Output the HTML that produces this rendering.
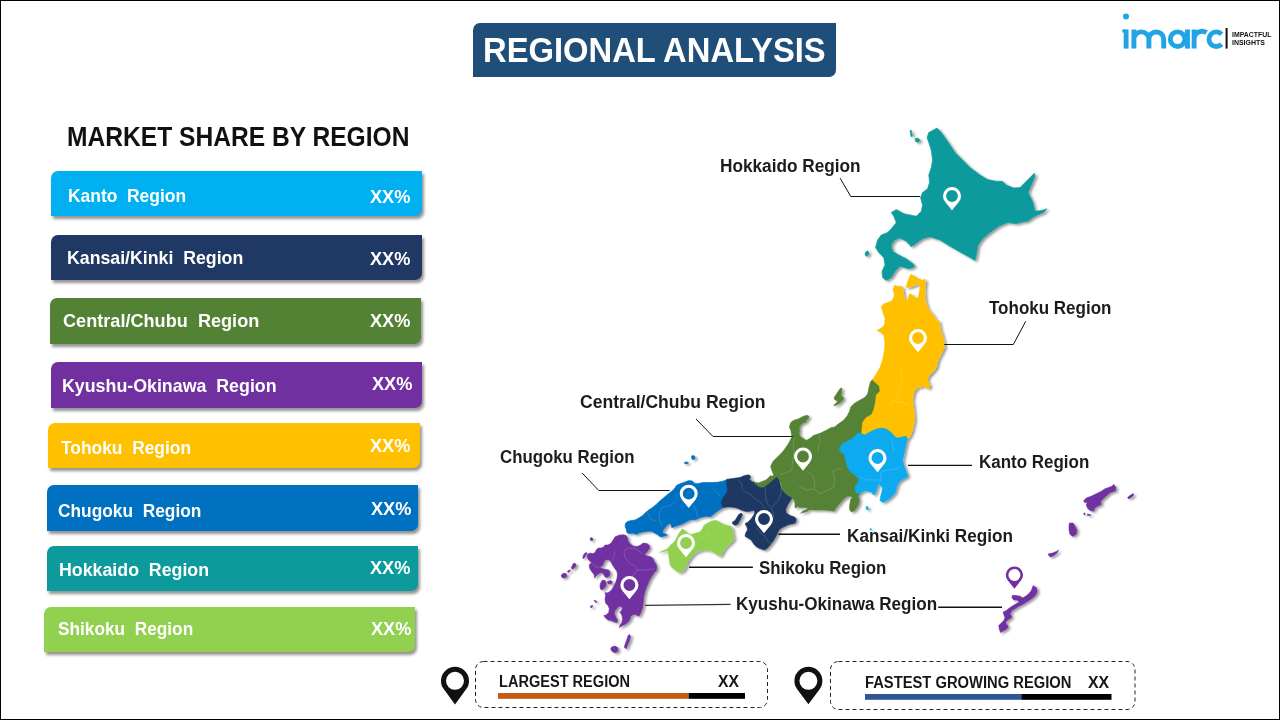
<!DOCTYPE html>
<html lang="en"><head><meta charset="utf-8"><title>Regional Analysis</title>
<style>
html,body{margin:0;padding:0;}
body{width:1280px;height:720px;overflow:hidden;background:#fff;position:relative;font-family:"Liberation Sans",sans-serif;}
.frame{position:absolute;left:0;top:0;width:1278px;height:718px;border:1px solid #000;z-index:9;pointer-events:none;}
.t{position:absolute;white-space:pre;transform-origin:0 0;margin:0;}
.title{position:absolute;left:473px;top:23px;width:363px;height:54px;background:#1F4E79;border-radius:7px 0 7px 0;}
.bar{position:absolute;border-radius:7px 0 7px 0;box-shadow:2px 3px 3px rgba(0,0,0,.42);}
.dash{position:absolute;}
svg{position:absolute;left:0;top:0;}
</style></head><body>
<div class="title"></div>
<div class="bar" style="left:51px;top:171px;width:371px;height:45px;background:#00B0F0"></div>
<div class="bar" style="left:51px;top:235px;width:371px;height:45px;background:#1F3864"></div>
<div class="bar" style="left:50px;top:298px;width:371px;height:46px;background:#548235"></div>
<div class="bar" style="left:51px;top:362px;width:371px;height:46px;background:#7030A0"></div>
<div class="bar" style="left:48px;top:423px;width:372px;height:45px;background:#FFC000"></div>
<div class="bar" style="left:47px;top:485px;width:371px;height:46px;background:#0070C0"></div>
<div class="bar" style="left:47px;top:546px;width:371px;height:45px;background:#0C9A9C"></div>
<div class="bar" style="left:44px;top:607px;width:371px;height:45px;background:#92D050"></div>
<svg width="1280" height="720" viewBox="0 0 1280 720">
<defs><filter id="sh" x="-5%" y="-5%" width="110%" height="110%"><feDropShadow dx="2.3" dy="1.5" stdDeviation="1.3" flood-color="#000" flood-opacity="0.4"/></filter></defs>
<g filter="url(#sh)">
<path d="M928.75,132.5 L932.5,130.5 L937,128 L941.25,132.5 L947.5,141.25 L955,152.5 L962.5,160 L970,167.5 L980,175 L987.5,179.5 L996.25,181.25 L1002.5,181.25 L1006.25,185 L1013.75,188 L1020,187.5 L1026.25,181.25 L1034.5,173 L1035,176.25 L1031.25,185 L1028,192.5 L1032.5,201.25 L1035,211.25 L1041.25,210.5 L1047,208.75 L1043.75,212.5 L1037.5,215 L1032.5,217.5 L1027.5,221.25 L1020,222.5 L1016.25,223.75 L1007.5,222.5 L998.75,226.25 L990,232.5 L982.5,238.75 L978,245 L976.25,255 L975,260.5 L970,257.5 L960,252 L950,246.25 L940,240 L930,236.75 L922.5,238.75 L916.25,243 L911.25,246.75 L906.25,241.25 L900,238 L894.5,240 L891.25,245 L892.5,251.25 L898.75,255 L906.25,258.75 L913.75,264.25 L914.5,266.75 L908.75,268.75 L900,266.25 L895,271.25 L891.25,277.5 L886.25,280.5 L882.5,277.5 L882,271.25 L885,265 L883.75,257.5 L878.75,252.5 L875.5,247.5 L877.5,240 L881.25,235 L887.5,232.5 L891.25,228.75 L896.25,222.5 L893.75,216.25 L891.25,212.5 L896.25,209.5 L903.75,213.75 L910,215 L916.25,216.25 L921.25,211.25 L922.5,205 L920.5,197.5 L922.5,192.5 L927.5,188.75 L929.5,182.5 L928.75,175 L931.25,167.5 L932.5,160 L931.25,150 L928.75,142.5 L927,137.5Z" fill="#0C9A9C" stroke="#0C9A9C" stroke-width="0.6" stroke-linejoin="round"/>
<path d="M910,130.5 L911.5,130.5 L912.5,136.25 L911,136.5Z" fill="#0C9A9C" stroke="#0C9A9C" stroke-width="0.6" stroke-linejoin="round"/>
<path d="M915,138.75 L918,138 L920,140.5 L918,142.5 L915.5,141.5Z" fill="#0C9A9C" stroke="#0C9A9C" stroke-width="0.6" stroke-linejoin="round"/>
<path d="M865.5,252 L868,250.75 L869,253.75 L867,256.5 L865,255Z" fill="#0C9A9C" stroke="#0C9A9C" stroke-width="0.6" stroke-linejoin="round"/>
<path d="M881.56,379.22 L872.5,379.61 L870.62,381.56 L869.06,387.03 L867.89,393.28 L865.16,397.19 L859.69,400.31 L854.22,403.44 L850.7,406.95 L849.53,411.25 L847.19,415.94 L843.28,420.62 L838.59,423.75 L834.69,426.88 L830.78,427.66 L826.88,430 L820.62,433.12 L812.81,435.86 L811.25,437.5 L806.25,440.62 L799.53,436.02 L799.14,433.12 L799.53,430 L799.14,426.88 L800.7,424.92 L802.66,422.97 L805.78,422.19 L806.56,419.84 L808.52,418.28 L808.91,416.33 L806.95,415.31 L803.44,416.33 L798.75,418.67 L794.06,420.23 L790.94,422.19 L789.38,426.88 L790.94,430.78 L791.72,436.02 L791.88,436.88 L789.38,441.88 L786.25,446.88 L782.5,451.88 L777.5,456.88 L773.12,461.25 L770.62,466.25 L771.88,470.62 L773.75,475 L772.5,476.25 L770.62,475.62 L767.5,478.75 L765,480.62 L762.5,481.25 L758.75,483 L755,482.5 L753,480.75 L753.75,485 L760,488 L775,485 L778.75,480.62 L781.25,483.12 L781.88,486.88 L782.5,491.25 L785.62,493.75 L788.75,495.62 L791.88,498.12 L794.38,500.62 L795,503.75 L795,507.5 L796.25,508.12 L797.5,506.25 L800,507.5 L803.75,507.25 L807.5,507.5 L806.88,509.38 L802.5,511.25 L800.62,513.12 L803.75,512.5 L807.5,511.25 L810,509.38 L815,510 L820,510 L825,510 L830,510.62 L833.75,511.25 L836.25,507.5 L840,503.12 L843.75,498.75 L847.5,496.25 L851.25,496.25 L852.5,497.5 L850.62,499.38 L850,503.12 L849.38,507.5 L850,510.62 L851.88,511.88 L854.38,510.62 L856.88,507.5 L858.75,503.75 L859.38,500 L858.12,496.25 L865,485 L877.5,447.5 L887.5,428.75 L890,415Z" fill="#548235" stroke="#548235" stroke-width="0.6" stroke-linejoin="round"/>
<path d="M840.55,388.2 L842.11,388.2 L841.72,391.72 L840.94,394.84 L841.72,396.8 L843.67,397.34 L843.28,399.14 L841.33,401.48 L839.38,403.44 L836.64,405 L834.3,405.78 L833.91,405 L835.86,403.44 L837.42,401.88 L836.64,400.47 L834.69,399.53 L834.06,398.36 L835.08,396.02 L837.03,393.28 L838.98,390.16Z" fill="#548235" stroke="#548235" stroke-width="0.6" stroke-linejoin="round"/>
<path d="M885,318 L883.83,314.88 L883.05,312.53 L882.27,309.41 L881.09,307.45 L882.27,305.5 L884.22,303.55 L887.34,302.77 L890.47,301.59 L892.42,300.03 L893.59,297.69 L894.38,294.56 L893.59,291.44 L892.81,289.09 L893.98,288.31 L893.98,285.97 L895.16,285.19 L897.5,286.75 L899.84,286.36 L902.19,286.75 L902.97,290.66 L903.75,295.34 L904.53,299.25 L906.09,299.64 L908.05,299.25 L908.83,296.12 L909.61,293.78 L911.56,294.56 L913.91,296.52 L916.25,298.08 L918.2,297.69 L918.98,293.78 L919.77,289.09 L920.16,285.19 L919.38,284.02 L916.25,284.8 L912.34,286.36 L908.44,287.53 L906.09,287.14 L906.88,284.41 L908.44,279.72 L910.78,274.25 L914.69,276.59 L919.38,279.33 L922.5,280.5 L924.84,278.94 L925.47,281.28 L925.23,285.19 L924.69,289.88 L924.84,294.56 L925.23,299.25 L926.02,303.16 L927.97,308.62 L931.09,312.53 L934.22,316.44 L936.95,321.91 L938.75,320 L940.5,330 L943.75,340 L944.5,347.5 L941.25,353.75 L938,360 L936.25,367.5 L932.5,372.5 L928.75,376.25 L927,380 L930,385 L928.75,388.75 L923.75,386.25 L917.5,387.5 L913.75,392.5 L912.5,400 L913.75,410 L914.5,420 L912.5,430 L910,436.25 L905,442.5 L860,442.5 L862,430 L862.5,422.5 L866.25,417.5 L871.25,415 L873.75,410 L875.5,402.5 L876.25,395 L880,391.25 L879.5,386.25 L875.5,382.5 L872.5,380 L876.25,373.75 L880,367.5 L882.5,360 L884.5,350 L885,342.5 L883.75,335 L881.25,332 L877,330.5 L881.25,328 L884.5,325 L885,318.75Z" fill="#FFC000" stroke="#FFC000" stroke-width="0.6" stroke-linejoin="round"/>
<path d="M840,447.5 L842.5,443.75 L846.88,441.25 L851.25,439.38 L855,435.62 L858.12,433.12 L861.88,433.75 L865,435 L871.25,431.25 L877.5,428.75 L882.5,428.12 L886.88,429.38 L891.25,432.5 L895,436.88 L897.5,438.12 L902.5,436.88 L906.25,436.25 L907.5,438.75 L906.25,443.12 L905,448.75 L903.75,455 L902.5,460 L903.75,465 L905.62,470 L907.5,474.38 L907.5,476.88 L903.75,478.75 L900,481.25 L897.5,484.38 L896.25,488.75 L895,493.12 L891.25,496.88 L887.5,500 L883.12,502.5 L880,500.62 L880.62,496.25 L881.88,491.88 L882.5,487.5 L880.62,485 L878.12,485 L876.88,488.75 L875.62,492.5 L874,495.25 L871.25,491.88 L865,490.62 L860,493.12 L856.88,493.75 L855,490 L855,486.25 L858.12,483.12 L858.75,478.75 L855,475 L850.62,471.88 L847.5,467.5 L846.25,462.5 L845,457.5 L843.75,453.75 L840.62,451.88 L839.38,449.38Z" fill="#08AAF0" stroke="#08AAF0" stroke-width="0.6" stroke-linejoin="round"/>
<path d="M866,506.75 L867.5,506.5 L868.5,508.5 L868,510 L866.5,509.5Z" fill="#08AAF0" stroke="#08AAF0" stroke-width="0.6" stroke-linejoin="round"/>
<path d="M870,528.75 L871.25,528.75 L871.38,530 L870.12,530Z" fill="#08AAF0" stroke="#08AAF0" stroke-width="0.6" stroke-linejoin="round"/>
<path d="M730,479.38 L726.25,480 L722.5,481.25 L717.5,482.25 L712.5,482.5 L707.5,482.5 L702.5,482.5 L698.75,483.5 L695.62,483.75 L693.12,482.5 L692.5,481 L688.75,480.62 L685,481.88 L680,483.75 L676.25,485.62 L675,488.12 L672.5,490.62 L669.38,493.12 L666.25,495.62 L662.5,498.75 L659.38,501.25 L656.25,504.38 L652.5,507.5 L648.75,510 L645.62,512.5 L642.5,515.62 L638.75,518.12 L635,520 L631.25,520.62 L628.12,521.25 L625.62,523.12 L625,526.25 L626.25,529.38 L626.88,532.5 L628.75,533.75 L632.5,533.12 L636.25,534.38 L640,532.5 L643.75,531.88 L647.5,531.25 L651.25,531.25 L655,533.12 L658.12,535 L660.62,536.88 L663.75,536.25 L667.5,535 L665,533.75 L662.5,533.12 L663.12,530 L665,527.5 L667.5,525 L669.38,523.12 L671.25,525 L671.88,528.12 L673.75,526.88 L677.5,525.62 L681.25,524.38 L685,522.5 L688.75,520.62 L692.5,519.38 L695,520 L698.75,518.12 L702.5,516.88 L706.25,516.25 L710,516.88 L713.12,514.38 L716.25,511.88 L720,509.38 L723.12,507.5 L730,506.25Z" fill="#0070C0" stroke="#0070C0" stroke-width="0.6" stroke-linejoin="round"/>
<path d="M691.51,455.94 L693.76,455.38 L695.26,457.25 L694.13,459.5 L691.88,459.13Z" fill="#0070C0" stroke="#0070C0" stroke-width="0.6" stroke-linejoin="round"/>
<path d="M684.38,462.51 L686.63,461.76 L688.51,462.88 L687.01,464.01 L684.76,463.63Z" fill="#0070C0" stroke="#0070C0" stroke-width="0.6" stroke-linejoin="round"/>
<path d="M726.5,479.38 L732.5,478.5 L740,477.5 L744.38,475.62 L748.75,474.75 L750.62,476.25 L749.38,479.38 L752.5,481.88 L753.75,482.5 L756.25,485.62 L760,487.75 L763.75,487.5 L767.5,485 L771.25,481.88 L775,478.75 L776.88,477.5 L778.75,480 L780,483.75 L781.25,488.75 L783.75,492.5 L787.5,495.62 L791.88,498.12 L790,501.25 L787.5,505 L785.62,509.38 L786.25,513.12 L790,515.62 L794.38,516.88 L796.25,518.75 L795.62,522.5 L793.12,523.75 L788.75,524.38 L785,526.25 L781.25,528.12 L778.75,530.62 L776.88,534.38 L775,538.12 L772.5,541.88 L770,545 L767.5,548.12 L765,550 L761.25,549 L757.5,547.5 L755,545.62 L753.12,543.12 L751.25,540 L748.12,538.12 L745,536.25 L745.62,533.12 L747.5,530 L746.88,526.88 L745,523.75 L748.12,521.88 L751.25,518.75 L753.75,515 L755,511.88 L753.75,510.25 L750,511.25 L746.25,511.5 L742.5,510.62 L738.75,508.75 L735,507.5 L730,506.88 L726.25,506.88 L723.12,507.5 L722.5,506.88 L721.25,502.5 L723.12,497.5 L726.25,493.75 L727.5,490 L726.88,485Z" fill="#1F3864" stroke="#1F3864" stroke-width="0.6" stroke-linejoin="round"/>
<path d="M741.25,513.12 L742.5,514.38 L741.25,517.5 L739.38,521.25 L737.5,524.38 L735,525.25 L732.5,523.75 L732.5,521.88 L735,520.62 L736.88,517.5 L738.75,514.38Z" fill="#1F3864" stroke="#1F3864" stroke-width="0.6" stroke-linejoin="round"/>
<path d="M682.5,528.75 L685,531.25 L687.5,533.75 L691.25,534.38 L696.25,533.12 L700,531.88 L702.5,528.75 L703.75,525.62 L707.5,523.12 L711.88,521 L716.25,520.62 L720,522.5 L723.75,524.38 L727.5,525.62 L730.62,526.25 L732.5,528.75 L732.75,532.5 L733.5,536.25 L734,538.75 L732.5,541.25 L730,543.75 L726.88,546.25 L724.38,549.38 L722.5,552.5 L720.62,556.25 L717.5,555 L713.75,552.5 L710,550.62 L706.25,550 L702.5,550 L698.75,551.25 L695,553.12 L692.5,555.62 L690,558.75 L687.5,562.5 L685.62,566.88 L683.75,570.62 L680.62,572.5 L677.5,571.88 L675,569.38 L671.88,567.5 L670,564.38 L669.38,560 L668.75,555.62 L667.88,550.5 L659.5,552.38 L667.5,548.75 L670.62,545 L673.75,542.5 L676.25,538.75 L678.12,535 L680,531.88Z" fill="#92D050" stroke="#92D050" stroke-width="0.6" stroke-linejoin="round"/>
<path d="M615,536.88 L618.75,535.25 L623.12,534.75 L626.25,535.62 L627.5,538.12 L628.12,541.25 L630.62,544.38 L633.75,546.25 L637.5,546.5 L640.62,545 L643.12,543.12 L646.88,543.5 L649.38,545.62 L649.38,548.75 L646.88,551.88 L644.38,554.38 L647.5,556.25 L651.25,556.88 L653.12,558.75 L654.38,561.88 L656.25,564.38 L656.88,568.12 L656.25,570.62 L654.38,572.5 L651.88,576.25 L649.38,580.62 L647.5,585 L645.62,589.38 L643.75,595 L644.38,592.5 L643.5,598.75 L643.12,605 L641.88,610 L640,614.38 L638.75,616.25 L635.62,614.38 L633.12,614.38 L630.62,616.25 L630,619.38 L627.5,622.5 L625,624.38 L622.5,625.62 L619.38,627.5 L620,625 L621.88,622.5 L622.5,618.75 L621.88,615 L620,612.5 L622.5,608.75 L621.25,606.25 L618.75,606.25 L616.88,608.75 L615,610.62 L614.38,613.75 L615.62,616.88 L617.5,620 L616.88,622.5 L614.38,621.88 L611.25,620.62 L608.12,620 L605.62,618.12 L603.75,615.62 L606.25,615 L608.75,612.5 L609.38,608.75 L608.12,605.62 L605.62,603.12 L605,599.38 L605.62,595.62 L605,592.5 L605,592.5 L606.88,593.12 L609.38,591.88 L611.88,589.38 L613.75,586.25 L615.62,582.5 L616.88,578.75 L617.5,575 L616.88,571.25 L615,568.75 L612.5,565 L610.62,561.25 L608.12,559.38 L605,560 L603.75,562.5 L602.5,565.62 L599.38,566.88 L596.25,566.25 L593.12,564.38 L591.25,562.5 L588.75,560 L587.25,557.5 L587.5,554.38 L590,553.12 L593.12,553.75 L595,552.5 L596.25,550 L598.12,548.12 L601.25,548.12 L603.75,546.88 L605,545 L608.12,545 L611.25,543.12 L613.12,540Z" fill="#7030A0" stroke="#7030A0" stroke-width="0.6" stroke-linejoin="round"/>
<path d="M589.38,564.38 L591.25,563.12 L593.75,565.62 L596.88,567.5 L600,567.25 L602.5,568.75 L605.62,569.38 L608.75,570 L610,572.5 L609.75,575.62 L607.5,577.5 L605,576.88 L603.75,574.38 L601.88,572.5 L599.38,573.12 L596.88,575 L594.38,578.12 L594.38,575 L592.5,572.5 L590.62,570 L589.38,567.5Z" fill="#7030A0" stroke="#7030A0" stroke-width="0.6" stroke-linejoin="round"/>
<path d="M602.5,580 L605,580.62 L606.25,583.12 L605.62,586.25 L603.75,588.75 L601.25,590 L600,587.5 L600.25,583.75Z" fill="#7030A0" stroke="#7030A0" stroke-width="0.6" stroke-linejoin="round"/>
<path d="M607.5,581.5 L610.62,580.62 L612.5,581.88 L611.25,583.75 L608.12,584Z" fill="#7030A0" stroke="#7030A0" stroke-width="0.6" stroke-linejoin="round"/>
<path d="M561.25,575 L563.75,573.12 L566.25,573.75 L566.88,576.25 L564.38,578.12 L561.88,577.5Z" fill="#7030A0" stroke="#7030A0" stroke-width="0.6" stroke-linejoin="round"/>
<path d="M567.25,571.5 L569.75,569.75 L570.62,570.75 L568.12,572.5Z" fill="#7030A0" stroke="#7030A0" stroke-width="0.6" stroke-linejoin="round"/>
<path d="M571.25,568.12 L573.12,563.75 L575,563.12 L576.25,565.62 L574.38,568.12 L572.5,569.38Z" fill="#7030A0" stroke="#7030A0" stroke-width="0.6" stroke-linejoin="round"/>
<path d="M582.75,557.5 L583.75,554.38 L586.25,552.25 L586.88,553.75 L585,556.88 L583.5,558.75Z" fill="#7030A0" stroke="#7030A0" stroke-width="0.6" stroke-linejoin="round"/>
<path d="M590.25,538.12 L591.75,537.5 L593,539 L592.25,540.75 L590.5,540.5Z" fill="#7030A0" stroke="#7030A0" stroke-width="0.6" stroke-linejoin="round"/>
<path d="M629.38,634.38 L630.62,636.25 L629.38,641.25 L627.5,645.62 L626.25,648.75 L624.38,647.5 L625,644.38 L626.88,639.38 L628.12,635.62Z" fill="#7030A0" stroke="#7030A0" stroke-width="0.6" stroke-linejoin="round"/>
<path d="M611.88,646.88 L615,646 L618.12,648.12 L617.75,651.25 L615,652.75 L611.88,651.25 L610.62,648.75Z" fill="#7030A0" stroke="#7030A0" stroke-width="0.6" stroke-linejoin="round"/>
<path d="M594,600.62 L595.62,600.38 L596.88,601.88 L596,602.75Z" fill="#7030A0" stroke="#7030A0" stroke-width="0.6" stroke-linejoin="round"/>
<path d="M590.25,606.5 L592.25,605.25 L593,606.25 L591,608Z" fill="#7030A0" stroke="#7030A0" stroke-width="0.6" stroke-linejoin="round"/>
<path d="M1083.75,500.62 L1086.25,498.12 L1091.25,496.25 L1096.25,493.75 L1101.25,491.25 L1105,488.75 L1108.75,487.5 L1111.88,486.25 L1113.75,484.38 L1115.62,486.88 L1115.62,490.62 L1112.5,491.88 L1110,492.5 L1107.5,495 L1103.75,498.12 L1100.62,501.25 L1101.25,504.38 L1097.5,506.25 L1094.38,508.12 L1093.75,511.25 L1090,510.62 L1087.5,508.12 L1086.25,505 L1087.5,501.88 L1084.38,502.5Z" fill="#7030A0" stroke="#7030A0" stroke-width="0.6" stroke-linejoin="round"/>
<path d="M1127.5,497.5 L1130,495.62 L1133.12,493.5 L1133.75,495 L1131.25,497.5 L1128.75,499Z" fill="#7030A0" stroke="#7030A0" stroke-width="0.6" stroke-linejoin="round"/>
<path d="M1083.75,513.12 L1085,512.88 L1085,514.75 L1084,514.75Z" fill="#7030A0" stroke="#7030A0" stroke-width="0.6" stroke-linejoin="round"/>
<path d="M1087.5,514 L1090.62,514.75 L1090.25,515.75 L1087.5,515.25Z" fill="#7030A0" stroke="#7030A0" stroke-width="0.6" stroke-linejoin="round"/>
<path d="M1069.38,523.12 L1073.12,523.12 L1075,526.25 L1076.88,530 L1076.25,533.75 L1073.12,536.5 L1070,534.38 L1069,530 L1069,526.25Z" fill="#7030A0" stroke="#7030A0" stroke-width="0.6" stroke-linejoin="round"/>
<path d="M1048.5,553.75 L1052.5,553.12 L1056.25,551.5 L1058.5,550.25 L1056.88,553.12 L1053.75,555.62 L1050.62,556.88 L1048.75,555.62Z" fill="#7030A0" stroke="#7030A0" stroke-width="0.6" stroke-linejoin="round"/>
<path d="M1033.12,585.62 L1036.25,587.5 L1037.25,591.25 L1035.62,595 L1032.5,598.12 L1028.75,600.62 L1025.62,602.5 L1022.5,604.38 L1018.75,606.25 L1015,608.75 L1011.88,610.62 L1010,613.75 L1011.88,616.88 L1010,618.75 L1007.5,620 L1005.62,623.12 L1008.12,626.25 L1006.88,628.75 L1003.75,630.62 L1000.62,632.5 L999.38,629.38 L998.75,625.62 L1001.25,623.12 L1003.75,620.62 L1005,617.5 L1003.75,614.38 L1003.12,611.88 L1006.25,610.62 L1009.38,608.12 L1013.12,605.62 L1016.25,603.75 L1019.38,601.88 L1017.5,600 L1013.75,600 L1011.88,597.5 L1012.5,595.25 L1016.25,595.62 L1020,596.25 L1022.5,598.12 L1025.62,596.25 L1028.75,593.75 L1031.25,590.62 L1032.5,587.5Z" fill="#7030A0" stroke="#7030A0" stroke-width="0.6" stroke-linejoin="round"/>
</g>
<g fill="none" stroke="#fff" stroke-opacity="0.22" stroke-width="0.7">
<path d="M738.12,479.38 L740,482.5 L742.5,483.75 L741.25,488.12 L745,491.88 L750,494.38 L753.75,497.5 L758.75,501.25 L762.5,505 L765,508.12"/>
<path d="M765,487.5 L765.62,493.75 L766.25,500 L767.5,503.75 L771.25,508.12 L773.12,512.5 L773.75,517.5"/>
<path d="M781.25,488.75 L780.62,495 L778.75,500 L775,503.75 L771.25,508.12"/>
<path d="M756.25,527.5 L760,532.5 L765,536.25 L767.5,541.25 L771.25,543.75"/>
<path d="M676.25,501.25 L671.25,505 L662.5,507.5 L658.75,513.75 L660,521.25 L662.5,526.25"/>
<path d="M647.5,512.5 L650,518.75 L656.25,521.25"/>
<path d="M693.75,505 L696.25,511.25 L697.5,516.88"/>
<path d="M712.5,488.75 L717.5,492.5 L720,496.88"/>
<path d="M623.75,551.25 L627.5,548.12 L633.75,548.12 L637.5,550 L642.5,553.75"/>
<path d="M623.75,551.25 L625,557.5 L628.75,562.5 L635,566.25 L637.5,570 L632.5,576.25 L630,578.75"/>
<path d="M637.5,570 L645,570 L653.75,568.75"/>
<path d="M615,551.25 L613.75,557.5 L611.25,561.25"/>
<path d="M818.75,435 L820,440 L818.75,446.25 L817.5,452.5"/>
<path d="M795,437.5 L793.12,443.75 L793.75,452.5 L792.5,462.5 L791.88,470 L783.75,473.75 L780,474.38"/>
<path d="M833.75,487.5 L834.38,480 L833.12,471.25 L837.5,468.75 L842.5,468.75"/>
<path d="M798.75,486.25 L806.25,490 L813.75,488.75 L815,482.5 L812.5,475 L806.25,471.25"/>
<path d="M813.75,488.75 L820,493.75 L827.5,490 L833.75,487.5"/>
<path d="M878.12,470 L881.25,473.75 L880.62,480 L878.75,485"/>
<path d="M881.25,471.25 L888.75,470 L896.25,468.75 L901.25,466.25"/>
<path d="M860,477.5 L867.5,480 L875,480 L880.62,480"/>
<path d="M891.25,437.5 L892.5,443.75 L893.75,452.5"/>
<path d="M900,367.5 L902.5,377.5 L900,387.5 L897.5,397.5 L892.5,401.25 L890,406.25"/>
<path d="M892.5,401.25 L902.5,402.5 L910,406.25"/>
<path d="M710,532.5 L707.5,535 L702.5,537.5 L698.75,540"/>
</g>
<path d="M945.04,201.70 A9.0,9.0 0 1 1 958.96,201.70 L952.00,210.20Z M957.90,196.00 A5.9,5.9 0 1 0 946.10,196.00 A5.9,5.9 0 1 0 957.90,196.00Z" fill="#fff" fill-rule="evenodd"/>
<path d="M911.04,343.70 A9.0,9.0 0 1 1 924.96,343.70 L918.00,352.20Z M923.90,338.00 A5.9,5.9 0 1 0 912.10,338.00 A5.9,5.9 0 1 0 923.90,338.00Z" fill="#fff" fill-rule="evenodd"/>
<path d="M870.54,463.70 A9.0,9.0 0 1 1 884.46,463.70 L877.50,472.20Z M883.40,458.00 A5.9,5.9 0 1 0 871.60,458.00 A5.9,5.9 0 1 0 883.40,458.00Z" fill="#fff" fill-rule="evenodd"/>
<path d="M796.04,462.20 A9.0,9.0 0 1 1 809.96,462.20 L803.00,470.70Z M808.90,456.50 A5.9,5.9 0 1 0 797.10,456.50 A5.9,5.9 0 1 0 808.90,456.50Z" fill="#fff" fill-rule="evenodd"/>
<path d="M681.74,499.40 A9.0,9.0 0 1 1 695.66,499.40 L688.70,507.90Z M694.60,493.70 A5.9,5.9 0 1 0 682.80,493.70 A5.9,5.9 0 1 0 694.60,493.70Z" fill="#fff" fill-rule="evenodd"/>
<path d="M757.04,524.70 A9.0,9.0 0 1 1 770.96,524.70 L764.00,533.20Z M769.90,519.00 A5.9,5.9 0 1 0 758.10,519.00 A5.9,5.9 0 1 0 769.90,519.00Z" fill="#fff" fill-rule="evenodd"/>
<path d="M679.04,548.70 A9.0,9.0 0 1 1 692.96,548.70 L686.00,557.20Z M691.90,543.00 A5.9,5.9 0 1 0 680.10,543.00 A5.9,5.9 0 1 0 691.90,543.00Z" fill="#fff" fill-rule="evenodd"/>
<path d="M622.44,590.70 A9.0,9.0 0 1 1 636.36,590.70 L629.40,599.20Z M635.30,585.00 A5.9,5.9 0 1 0 623.50,585.00 A5.9,5.9 0 1 0 635.30,585.00Z" fill="#fff" fill-rule="evenodd"/>
<path d="M1007.67,580.36 A8.6,8.6 0 1 1 1021.13,580.36 L1014.40,588.80Z M1020.40,575.00 A6.0,6.0 0 1 0 1008.40,575.00 A6.0,6.0 0 1 0 1020.40,575.00Z" fill="#7030A0" fill-rule="evenodd"/>
<path d="M840.1,178.1 L850.8,196.5 L920,196.5" fill="none" stroke="#111" stroke-width="1"/>
<path d="M1025.8,321.2 L1013.3,344.5 L944.2,344.5" fill="none" stroke="#111" stroke-width="1"/>
<path d="M696,419 L713,436.5 L792.7,436.5" fill="none" stroke="#111" stroke-width="1"/>
<path d="M582.3,473.2 L598.8,490.5 L669.5,490.5" fill="none" stroke="#111" stroke-width="1"/>
<path d="M908.1,465.4 L972.1,465.4" fill="none" stroke="#111" stroke-width="1.4"/>
<path d="M778.4,534.3 L840,534.3" fill="none" stroke="#111" stroke-width="1.4"/>
<path d="M689.1,567.3 L752.9,567.3" fill="none" stroke="#111" stroke-width="1.4"/>
<path d="M938.2,607.3 L1002,607.3" fill="none" stroke="#111" stroke-width="1.4"/>
<path d="M645.2,605.3 L730.6,604.4" fill="none" stroke="#333" stroke-width="1.3"/>
<rect x="475.5" y="661.5" width="292" height="46" rx="8" ry="8" fill="none" stroke="#222" stroke-width="1" stroke-dasharray="4 3"/>
<rect x="830.5" y="661.5" width="304.5" height="48" rx="8" ry="8" fill="none" stroke="#222" stroke-width="1" stroke-dasharray="4 3"/>
<rect x="498" y="693" width="190.6" height="5.8" fill="#C55A11"/><rect x="688.6" y="693" width="56.4" height="5.8" fill="#000"/>
<rect x="865" y="694" width="156.3" height="5.8" fill="#2F5597"/><rect x="1021.3" y="694" width="90.2" height="5.8" fill="#000"/>
<path d="M443.73,689.11 A14,14 0 1 1 466.27,689.11 L455.00,704.40Z M464.00,680.80 A9,9 0 1 0 446.00,680.80 A9,9 0 1 0 464.00,680.80Z" fill="#111" fill-rule="evenodd"/>
<path d="M797.18,689.18 A14,14 0 1 1 819.62,689.18 L808.40,704.20Z M817.40,680.80 A9,9 0 1 0 799.40,680.80 A9,9 0 1 0 817.40,680.80Z" fill="#111" fill-rule="evenodd"/>
<g fill="none" stroke="#20A4E6" stroke-width="4.9">
<circle cx="1126" cy="16.5" r="3" fill="#20A4E6" stroke="none"/>
<path d="M1126.1,29.5 V48.6"/>
<path d="M1122.3,31 H1126"  stroke-width="3"/>
<path d="M1133.9,29.5 V48.6 M1133.9,39.3 A7.5,7.4 0 0 1 1148.9,39.3 V48.6 M1148.9,39.3 A7.4,7.4 0 0 1 1163.7,39.3 V48.6"/>
<circle cx="1177.6" cy="39.2" r="7.3"/><path d="M1187.5,29.5 V48.6"/>
<path d="M1194.1,29.5 V48.6 M1194.1,40 A8,8 0 0 1 1206.5,32.6"/>
<path d="M1221.6,34.2 A7.3,7.3 0 1 0 1221.6,44.2"/>
</g>
<rect x="1225.6" y="28" width="2" height="20.6" fill="#111"/>
</svg>
<div class="t" style="left:483.3px;top:33.17px;font-size:35.8px;line-height:35.8px;font-weight:700;color:#fff;transform:scaleX(0.9147)">REGIONAL ANALYSIS</div>
<div class="t" style="left:66.8px;top:123.68px;font-size:26.96px;line-height:26.96px;font-weight:700;color:#111;transform:scaleX(0.9123)">MARKET SHARE BY REGION</div>
<div class="t" style="left:68.0px;top:186.69px;font-size:18.84px;line-height:18.84px;font-weight:700;color:#fff;transform:scaleX(0.9253)">Kanto  Region</div>
<div class="t" style="left:370.3px;top:188.08px;font-size:18.26px;line-height:18.26px;font-weight:700;color:#fff;transform:scaleX(0.9958)">XX%</div>
<div class="t" style="left:66.8px;top:248.59px;font-size:18.84px;line-height:18.84px;font-weight:700;color:#fff;transform:scaleX(0.9412)">Kansai/Kinki  Region</div>
<div class="t" style="left:369.5px;top:249.68px;font-size:18.26px;line-height:18.26px;font-weight:700;color:#fff;transform:scaleX(0.9958)">XX%</div>
<div class="t" style="left:62.8px;top:311.69px;font-size:18.84px;line-height:18.84px;font-weight:700;color:#fff;transform:scaleX(0.9623)">Central/Chubu  Region</div>
<div class="t" style="left:370.4px;top:311.68px;font-size:18.26px;line-height:18.26px;font-weight:700;color:#fff;transform:scaleX(0.9958)">XX%</div>
<div class="t" style="left:61.5px;top:376.69px;font-size:18.84px;line-height:18.84px;font-weight:700;color:#fff;transform:scaleX(0.9452)">Kyushu-Okinawa  Region</div>
<div class="t" style="left:371.5px;top:374.68px;font-size:18.26px;line-height:18.26px;font-weight:700;color:#fff;transform:scaleX(0.9958)">XX%</div>
<div class="t" style="left:60.6px;top:438.59px;font-size:18.84px;line-height:18.84px;font-weight:700;color:#fff;transform:scaleX(0.9235)">Tohoku  Region</div>
<div class="t" style="left:369.5px;top:437.08px;font-size:18.26px;line-height:18.26px;font-weight:700;color:#fff;transform:scaleX(0.9958)">XX%</div>
<div class="t" style="left:57.5px;top:501.59px;font-size:18.84px;line-height:18.84px;font-weight:700;color:#fff;transform:scaleX(0.9200)">Chugoku  Region</div>
<div class="t" style="left:370.7px;top:500.08px;font-size:18.26px;line-height:18.26px;font-weight:700;color:#fff;transform:scaleX(0.9958)">XX%</div>
<div class="t" style="left:58.6px;top:560.69px;font-size:18.84px;line-height:18.84px;font-weight:700;color:#fff;transform:scaleX(0.9438)">Hokkaido  Region</div>
<div class="t" style="left:369.5px;top:558.78px;font-size:18.26px;line-height:18.26px;font-weight:700;color:#fff;transform:scaleX(0.9958)">XX%</div>
<div class="t" style="left:57.5px;top:619.59px;font-size:18.84px;line-height:18.84px;font-weight:700;color:#fff;transform:scaleX(0.9164)">Shikoku  Region</div>
<div class="t" style="left:370.7px;top:619.88px;font-size:18.26px;line-height:18.26px;font-weight:700;color:#fff;transform:scaleX(0.9958)">XX%</div>
<div class="t" style="left:720.3px;top:157.57px;font-size:17.68px;line-height:17.68px;font-weight:700;color:#1c1c1c;transform:scaleX(0.9744)">Hokkaido Region</div>
<div class="t" style="left:988.8px;top:300.37px;font-size:17.68px;line-height:17.68px;font-weight:700;color:#1c1c1c;transform:scaleX(0.9619)">Tohoku Region</div>
<div class="t" style="left:579.9px;top:394.47px;font-size:17.68px;line-height:17.68px;font-weight:700;color:#1c1c1c;transform:scaleX(0.9942)">Central/Chubu Region</div>
<div class="t" style="left:499.9px;top:449.47px;font-size:17.68px;line-height:17.68px;font-weight:700;color:#1c1c1c;transform:scaleX(0.9511)">Chugoku Region</div>
<div class="t" style="left:979.0px;top:454.47px;font-size:17.68px;line-height:17.68px;font-weight:700;color:#1c1c1c;transform:scaleX(0.9598)">Kanto Region</div>
<div class="t" style="left:847.0px;top:527.57px;font-size:17.68px;line-height:17.68px;font-weight:700;color:#1c1c1c;transform:scaleX(0.9717)">Kansai/Kinki Region</div>
<div class="t" style="left:758.7px;top:560.47px;font-size:17.68px;line-height:17.68px;font-weight:700;color:#1c1c1c;transform:scaleX(0.9528)">Shikoku Region</div>
<div class="t" style="left:736.0px;top:595.57px;font-size:17.68px;line-height:17.68px;font-weight:700;color:#1c1c1c;transform:scaleX(0.9662)">Kyushu-Okinawa Region</div>
<div class="t" style="left:498.8px;top:673.56px;font-size:16.52px;line-height:16.52px;font-weight:700;color:#161616;transform:scaleX(0.8813)">LARGEST REGION</div>
<div class="t" style="left:717.8px;top:673.56px;font-size:16.52px;line-height:16.52px;font-weight:700;color:#161616;transform:scaleX(0.9488)">XX</div>
<div class="t" style="left:865.1px;top:674.56px;font-size:16.52px;line-height:16.52px;font-weight:700;color:#161616;transform:scaleX(0.8927)">FASTEST GROWING REGION</div>
<div class="t" style="left:1087.6px;top:674.56px;font-size:16.52px;line-height:16.52px;font-weight:700;color:#161616;transform:scaleX(0.9578)">XX</div>
<div class="t" style="left:1231.5px;top:30.84px;font-size:7.25px;line-height:7.25px;font-weight:700;color:#111;transform:scaleX(0.9550)">IMPACTFUL</div>
<div class="t" style="left:1231.5px;top:39.24px;font-size:7.25px;line-height:7.25px;font-weight:700;color:#111;transform:scaleX(0.9605)">INSIGHTS</div>
<div class="frame"></div>
</body></html>
